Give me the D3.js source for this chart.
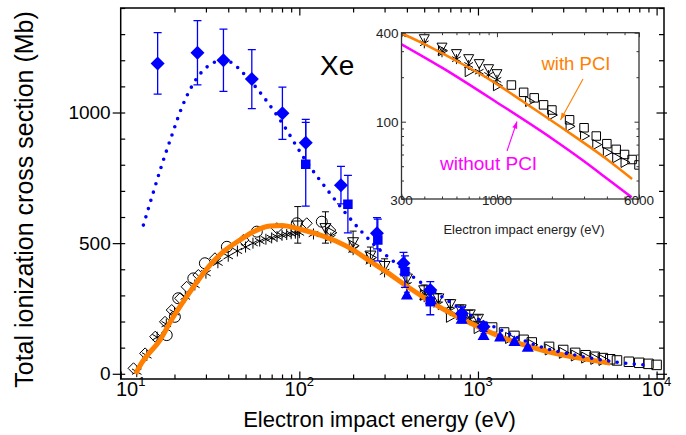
<!DOCTYPE html>
<html><head><meta charset="utf-8">
<script src="https://cdn.jsdelivr.net/npm/d3@7"></script>
<style>
html,body{margin:0;padding:0;background:#fff;}
svg{display:block;font-family:"Liberation Sans",Arial,Helvetica,sans-serif;}
</style></head><body>
<svg id="c" width="686" height="435"></svg>
<script>
// ---------------- data ----------------
// Theory with PCI (orange)  [E (eV), sigma (Mb)]
const pciLine = [[12.13,0],[13,38],[14,68],[16.6,129],[19,200],[22.4,276],[26,340],[31.6,416],[38,470],[46.5,512],[55,543],[68.5,566],[80,568],[101,553],[130,532],[160,508],[200,474],[250,430],[300,395],[400,335],[600,258],[900,195],[1400,136],[2300,90],[3900,57],[5500,41]];
// Theory without PCI (magenta, inset only)
const noPciLine = [[300,334],[500,232],[1000,135],[2000,77],[3000,54],[4000,41.3],[5470,30.8]];
// Blue dotted theory
const blueTheory = [[13.4,569],[15,680],[17,800],[19.5,920],[22,1020],[25,1100],[28,1150],[32,1185],[37,1200],[42,1190],[47,1160],[55,1110],[63,1060],[81.5,952],[105,831],[146,697],[219,550],[266,490],[330,435],[445,365],[628,295],[906,225],[1390,163],[2138,108],[3906,65],[5750,46],[8500,34]];
// Blue experiments [E, sigma, err]
const blueDiamonds = [[16.1,1188,118],[26.9,1229,123],[37.6,1200,119],[54.2,1128,113],[80.4,997,100],[108.6,884,90],[171,722,72],[272,538,60],[383,423,42],[541,321,32],[813,231,25],[1075,180,18]];
const blueSquares = [[108.6,802,160],[187,649,110],[275,512,80],[390,391,60],[541,276,50],[813,225,30]];
const blueTriangles = [[400,300,12],[545,282,12],[810,208,10],[1075,145,8],[1330,140,8],[1600,122,7],[1900,100,6]];
// Black open experiments [E, sigma]
const openDiamonds = [[11.8,21],[13.7,78],[15.6,142],[17.7,199],[19.3,244],[21.5,289],[23.4,333],[27.2,378],[33.7,442],[48.6,512],[74.8,557],[110,576],[149,550]];
const openCircles = [[18.1,148],[20.1,218],[21,289],[25.5,365],[29.6,423],[39.3,486],[57.8,544],[96.8,576],[133.6,582]];
const asterisks = [[12.3,8],[14,70],[16,140],[18,190],[20,235],[23,295],[26,340],[30,385],[35,425],[40,450],[45,470],[50,485],[55,500],[60,508],[65,515],[70,520],[75,525],[80,530],[85,533],[90,536],[95,538],[100,540],[120,535],[150,520],[200,475],[250,430],[300,390],[400,339],[500,295],[600,265],[700,242],[800,218],[900,207],[1000,192]];
const downTriangles = [[98,570,70],[140,560,60],[200,506,40],[250,455,30],[300,415,25],[400,367,20],[500,322,18],[600,291,16],[700,269,15],[800,249,14],[900,230,13],[1000,213,12]];
const rightTriangles = [[150,540],[200,490],[250,445],[500,302],[700,218],[1000,175],[1500,137],[2000,111],[2500,93],[3000,80],[3500,70],[4000,62],[4500,57],[5000,53]];
const openSquares = [[1200,177],[1400,158],[1600,145],[1800,130],[2000,120],[2500,103],[3000,91],[3500,80],[4000,71],[4500,65],[5000,60],[5500,55.5],[6000,51],[7000,46],[8000,42],[9000,38],[10000,34]];
// ticks
const xMajor = [10,100,1000,10000];
const xMajorExp = ["1","2","3","4"];
const xMinor = [20,30,40,50,60,70,80,90,200,300,400,500,600,700,800,900,2000,3000,4000,5000,6000,7000,8000,9000];
const yMajor = [0,500,1000];
const yMinor = [100,200,300,400,600,700,800,900,1100,1200,1300,1400];
const ixMajor = [300,1000,6000];
const ixMinor = [400,500,600,700,800,900,2000,3000,4000,5000];
const iyMajor = [100,400];
const iyMinor = [30,40,50,60,70,80,90,200,300];
const texts = {xTitle:"Electron impact energy (eV)", yTitle:"Total ionization cross section (Mb)", element:"Xe", withPCI:"with PCI", withoutPCI:"without PCI"};

// ---------------- drawing ----------------
const svg = d3.select('#c');
const BLUE = '#0000ff', ORANGE = '#ff7f00', MAGENTA = '#ff00ff';
const x = d3.scaleLog().domain([10, 11000]).range([120.7, 664]);
const y = d3.scaleLinear().domain([-20, 1400]).range([379, 8]);

svg.append('clipPath').attr('id','clipMain').append('rect')
  .attr('x',120.7).attr('y',8).attr('width',664-120.7).attr('height',379-8);

function shape(type, s) {
  const h = s/2;
  switch(type){
    case 'diamond': return `M0,${-h}L${h},0L0,${h}L${-h},0Z`;
    case 'square': return `M${-h},${-h}H${h}V${h}H${-h}Z`;
    case 'triUp': return `M0,${-h*1.1}L${h},${h*0.7}L${-h},${h*0.7}Z`;
    case 'triDown': return `M${-h},${-h*0.7}H${h}L0,${h*1.1}Z`;
    case 'triRight': return `M${-h*0.7},${-h}L${h*1.1},0L${-h*0.7},${h}Z`;
    case 'circle': {const p=d3.path();p.arc(0,0,h,0,2*Math.PI);p.closePath();return p.toString();}
    case 'asterisk': {
      const a = h*0.866, b = h*0.5;
      return `M0,${-h}V${h}M${-a},${-b}L${a},${b}M${-a},${b}L${a},${-b}`;
    }
  }
}

function drawMarkers(g, data, sx, sy, type, size, opts) {
  g.append('g').selectAll('path').data(data).join('path')
    .attr('transform', d => `translate(${sx(d[0])},${sy(d[1])})`)
    .attr('d', shape(type, size))
    .attr('fill', opts.fill || 'none')
    .attr('stroke', opts.stroke || 'none')
    .attr('stroke-width', opts.sw || 1);
}
function drawErrors(g, data, sx, sy, color, cap, sw) {
  const e = g.append('g').attr('stroke', color).attr('stroke-width', sw).attr('fill','none');
  e.selectAll('path').data(data).join('path')
    .attr('d', d => {
      const X = sx(d[0]), t = sy(d[1]+d[2]), b = sy(d[1]-d[2]);
      return `M${X},${t}V${b}M${X-cap},${t}H${X+cap}M${X-cap},${b}H${X+cap}`;
    });
}

// ---- main plot content ----
const plot = svg.append('g').attr('clip-path','url(#clipMain)');

// black open data
drawErrors(plot, downTriangles, x, y, '#000', 3.5, 1);
drawMarkers(plot, openDiamonds, x, y, 'diamond', 11, {stroke:'#000'});
drawMarkers(plot, openCircles, x, y, 'circle', 11, {stroke:'#000'});
drawMarkers(plot, downTriangles, x, y, 'triDown', 11, {stroke:'#000'});
drawMarkers(plot, rightTriangles, x, y, 'triRight', 11, {stroke:'#000'});
drawMarkers(plot, openSquares, x, y, 'square', 9.5, {stroke:'#000'});
drawMarkers(plot, asterisks, x, y, 'asterisk', 11, {stroke:'#000', sw:1});

// orange theory
const lineMain = d3.line().x(d=>x(d[0])).y(d=>y(d[1])).curve(d3.curveMonotoneX);
plot.append('path').datum(pciLine).attr('d', lineMain)
  .attr('fill','none').attr('stroke',ORANGE).attr('stroke-width',5).attr('stroke-linecap','butt');

// blue dotted theory
plot.append('path').datum(blueTheory).attr('d', lineMain)
  .attr('fill','none').attr('stroke',BLUE).attr('stroke-width',3.6)
  .attr('stroke-linecap','round').attr('stroke-dasharray','0,8.6');

// blue experiments
drawErrors(plot, blueDiamonds, x, y, BLUE, 4, 1.3);
drawErrors(plot, blueSquares, x, y, BLUE, 4, 1.3);
drawErrors(plot, blueTriangles, x, y, BLUE, 3, 1.1);
drawMarkers(plot, blueTriangles, x, y, 'triUp', 12, {fill:BLUE});
drawMarkers(plot, blueSquares, x, y, 'square', 9.5, {fill:BLUE});
drawMarkers(plot, blueDiamonds, x, y, 'diamond', 14, {fill:BLUE});

// ---- main axes ----
function styleAxis(g){ g.select('.domain').remove(); g.selectAll('line').attr('stroke','#000').attr('stroke-width',1.2); }
svg.append('g').attr('transform','translate(0,379)').call(d3.axisBottom(x).tickValues(xMinor).tickSize(-4.5).tickFormat('')).call(styleAxis);
svg.append('g').attr('transform','translate(0,379)').call(d3.axisBottom(x).tickValues(xMajor).tickSize(-7.5).tickFormat('')).call(styleAxis);
svg.append('g').attr('transform','translate(0,8)').call(d3.axisTop(x).tickValues(xMinor).tickSize(-4.5).tickFormat('')).call(styleAxis);
svg.append('g').attr('transform','translate(0,8)').call(d3.axisTop(x).tickValues(xMajor.slice(1)).tickSize(-7.5).tickFormat('')).call(styleAxis);
svg.append('g').attr('transform','translate(120.7,0)').call(d3.axisLeft(y).tickValues(yMinor).tickSize(-4.5).tickFormat('')).call(styleAxis);
const yl = svg.append('g').attr('transform','translate(120.7,0)').call(d3.axisLeft(y).tickValues(yMajor).tickSize(8).tickPadding(2).tickFormat(d3.format('d')));
yl.call(styleAxis); yl.selectAll('text').attr('font-size',19).attr('fill','#000').attr('font-family','"Liberation Sans",Arial,sans-serif');
svg.append('g').attr('transform','translate(120.7,0)').call(d3.axisLeft(y).tickValues(yMajor).tickSize(-4.5).tickFormat('')).call(styleAxis);
svg.append('g').attr('transform','translate(664,0)').call(d3.axisRight(y).tickValues(yMinor).tickSize(-5).tickFormat('')).call(styleAxis);
svg.append('g').attr('transform','translate(664,0)').call(d3.axisRight(y).tickValues(yMajor).tickSize(-7.5).tickFormat('')).call(styleAxis);
svg.append('g').attr('transform','translate(664,0)').call(d3.axisRight(y).tickValues(yMajor).tickSize(3).tickFormat('')).call(styleAxis);

// frame
svg.append('rect').attr('x',120.7).attr('y',8).attr('width',664-120.7).attr('height',379-8)
  .attr('fill','none').attr('stroke','#000').attr('stroke-width',1.5);

// x tick labels with superscripts (first one nudged right as in the original)
const xl = svg.append('g').selectAll('text').data(xMajor).join('text')
  .attr('x', (d,i)=>x(d) + (i===0 ? 10 : 0)).attr('y',396).attr('text-anchor','middle').attr('font-size',20).attr('fill','#000');
xl.append('tspan').text('10');
xl.append('tspan').text((d,i)=>xMajorExp[i]).attr('font-size',13).attr('dy',-10.5);

// titles
svg.append('text').attr('x',379.5).attr('y',427).attr('text-anchor','middle').attr('font-size',22).text(texts.xTitle);
svg.append('text').attr('transform','translate(33,199.5) rotate(-90)').attr('text-anchor','middle').attr('font-size',25).text(texts.yTitle);
svg.append('text').attr('x',320).attr('y',75).attr('font-size',28).text(texts.element);

// ---------------- inset ----------------
const L=401.5, R=639, T=32.7, B=199;
const xi = d3.scaleLog().domain([300,6000]).range([L,R]);
const yi = d3.scaleLog().domain([30,400]).range([B,T]);
const inset = svg.append('g');
inset.append('rect').attr('x',L).attr('y',T).attr('width',R-L).attr('height',B-T).attr('fill','#fff');
svg.append('clipPath').attr('id','clipInset').append('rect').attr('x',L).attr('y',T).attr('width',R-L).attr('height',B-T);
const ip = inset.append('g').attr('clip-path','url(#clipInset)');
const lineInset = d3.line().x(d=>xi(d[0])).y(d=>yi(d[1])).curve(d3.curveMonotoneX);
const inRange = a => a.filter(d=>d[0]>=280 && d[0]<=6500);
drawMarkers(ip, inRange(downTriangles), xi, yi, 'triDown', 10, {stroke:'#000'});
drawMarkers(ip, inRange(rightTriangles), xi, yi, 'triRight', 10, {stroke:'#000'});
drawMarkers(ip, inRange(openSquares), xi, yi, 'square', 8.5, {stroke:'#000'});
drawMarkers(ip, inRange(asterisks), xi, yi, 'asterisk', 10, {stroke:'#000'});
ip.append('path').datum(pciLine.filter(d=>d[0]>=250)).attr('d', lineInset).attr('fill','none').attr('stroke',ORANGE).attr('stroke-width',2.5);
ip.append('path').datum(noPciLine).attr('d', lineInset).attr('fill','none').attr('stroke',MAGENTA).attr('stroke-width',2.5);

function styleI(g){ g.select('.domain').remove(); g.selectAll('line').attr('stroke','#333').attr('stroke-width',1); }
inset.append('g').attr('transform',`translate(0,${B})`).call(d3.axisBottom(xi).tickValues(ixMinor).tickSize(-2.5).tickFormat('')).call(styleI);
inset.append('g').attr('transform',`translate(0,${B})`).call(d3.axisBottom(xi).tickValues(ixMajor).tickSize(-4.5).tickFormat('')).call(styleI);
inset.append('g').attr('transform',`translate(0,${T})`).call(d3.axisTop(xi).tickValues(ixMinor).tickSize(-2.5).tickFormat('')).call(styleI);
inset.append('g').attr('transform',`translate(0,${T})`).call(d3.axisTop(xi).tickValues(ixMajor).tickSize(-4.5).tickFormat('')).call(styleI);
inset.append('g').attr('transform',`translate(${L},0)`).call(d3.axisLeft(yi).tickValues(iyMinor).tickSize(-2.5).tickFormat('')).call(styleI);
inset.append('g').attr('transform',`translate(${L},0)`).call(d3.axisLeft(yi).tickValues(iyMajor).tickSize(-4.5).tickFormat('')).call(styleI);
inset.append('g').attr('transform',`translate(${R},0)`).call(d3.axisRight(yi).tickValues(iyMinor).tickSize(-2.5).tickFormat('')).call(styleI);
inset.append('g').attr('transform',`translate(${R},0)`).call(d3.axisRight(yi).tickValues(iyMajor).tickSize(-4.5).tickFormat('')).call(styleI);
inset.append('rect').attr('x',L).attr('y',T).attr('width',R-L).attr('height',B-T).attr('fill','none').attr('stroke','#333').attr('stroke-width',1.3);

inset.append('g').selectAll('text').data(ixMajor).join('text')
  .attr('x',d=>xi(d)).attr('y',205).attr('text-anchor','middle').attr('font-size',13.5).attr('fill','#222').text(d=>d);
inset.append('g').selectAll('text').data(iyMajor).join('text')
  .attr('x',L-3).attr('y',d=>yi(d)+4.8).attr('text-anchor','end').attr('font-size',13.5).attr('fill','#222').text(d=>d);
inset.append('text').attr('x',524).attr('y',234).attr('text-anchor','middle').attr('font-size',13).attr('fill','#222').text(texts.xTitle);

// annotations
inset.append('text').attr('x',541.5).attr('y',70).attr('font-size',18.5).attr('fill',ORANGE).text(texts.withPCI);
inset.append('text').attr('x',440).attr('y',170).attr('font-size',19).attr('fill',MAGENTA).text(texts.withoutPCI);
function arrow(g, x1,y1,x2,y2,color){
  g.append('line').attr('x1',x1).attr('y1',y1).attr('x2',x2).attr('y2',y2).attr('stroke',color).attr('stroke-width',1.1);
  const ang = Math.atan2(y2-y1,x2-x1), len=7, w=2.6;
  const bx = x2-len*Math.cos(ang), by = y2-len*Math.sin(ang);
  const px = -Math.sin(ang)*w, py = Math.cos(ang)*w;
  g.append('path').attr('d',`M${x2},${y2}L${bx+px},${by+py}L${bx-px},${by-py}Z`).attr('fill',color);
}
arrow(inset, 583,79, 560.5,120, ORANGE);
arrow(inset, 507,151, 517,121.5, MAGENTA);
</script></body></html>
